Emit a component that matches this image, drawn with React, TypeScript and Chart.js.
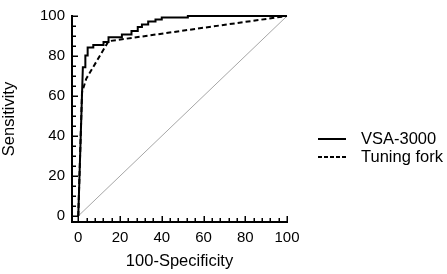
import { useEffect, useRef } from "react";
import { Chart, registerables } from "chart.js";

Chart.register(...registerables);

const seriesLabels = ["VSA-3000", "Tuning fork"];

const vsaFpr = [0, 2.2, 3.4, 3.4, 4.5, 4.5, 7.2, 7.2, 12.1, 12.1, 14.5, 14.5, 20.9, 20.9, 25.5, 25.5, 28.5, 28.5, 30.5, 30.5, 33.5, 33.5, 37, 37, 40, 40, 52.5, 52.5, 100];
const vsaSens = [0, 74.4, 74.4, 80.2, 80.2, 84.2, 84.2, 85.5, 85.5, 87, 87, 89.4, 89.4, 90.8, 90.8, 92.5, 92.5, 94.5, 94.5, 95.8, 95.8, 97.2, 97.2, 98.2, 98.2, 99.2, 99.2, 100, 100];

const forkFpr = [0, 1.8, 3.8, 14.5, 100];
const forkSens = [0, 61.8, 68.6, 87.4, 100];

const diagX = [0, 100];
const diagY = [0, 100];

const xTickLabels = [0, 20, 40, 60, 80, 100];
const yTickLabels = [0, 20, 40, 60, 80, 100];
const xMinorStep = 4;
const yMinorStep = 5;

const FONT = "'Liberation Sans', Arial, sans-serif";

const toPts = (xs: number[], ys: number[]) => xs.map((x, i) => ({ x, y: ys[i] }));

const axesPlugin = {
  id: "prismAxes",
  afterDatasetsDraw(chart: any) {
    const { ctx, scales } = chart;
    const xs = scales.x;
    const ys = scales.y;
    const left = xs.getPixelForValue(xs.min);
    const bottom = ys.getPixelForValue(ys.min);
    const xEnd = xs.getPixelForValue(100);
    const yEnd = ys.getPixelForValue(100);
    ctx.save();
    ctx.strokeStyle = "#000";
    ctx.lineWidth = 2;
    ctx.lineCap = "butt";
    ctx.beginPath();
    ctx.moveTo(left, bottom + 1);
    ctx.lineTo(left, yEnd - 1);
    ctx.moveTo(left - 1, bottom);
    ctx.lineTo(xEnd + 1, bottom);
    ctx.stroke();
    ctx.lineWidth = 1.5;
    ctx.beginPath();
    for (let v = 0; v <= 100; v += yMinorStep) {
      const py = Math.round(ys.getPixelForValue(v)) + 0.25;
      const len = v % 20 === 0 ? 6 : 4;
      ctx.moveTo(left, py);
      ctx.lineTo(left + len, py);
    }
    for (let v = 0; v <= 100; v += xMinorStep) {
      const px = Math.round(xs.getPixelForValue(v)) + 0.25;
      const len = v % 20 === 0 ? 6 : 4;
      ctx.moveTo(px, bottom);
      ctx.lineTo(px, bottom - len);
    }
    ctx.stroke();
    ctx.restore();
  },
  afterDraw(chart: any) {
    const { ctx } = chart;
    const rows = [139, 157];
    const dashes = [[], [4, 2]];
    ctx.save();
    chart.data.datasets.slice(0, 2).forEach((ds: any, i: number) => {
      const y = rows[i];
      ctx.strokeStyle = "#000";
      ctx.lineWidth = 2;
      ctx.setLineDash(dashes[i]);
      ctx.beginPath();
      ctx.moveTo(318, y);
      ctx.lineTo(346, y);
      ctx.stroke();
      ctx.setLineDash([]);
      ctx.fillStyle = "#000";
      ctx.font = `16.5px ${FONT}`;
      ctx.textBaseline = "middle";
      ctx.textAlign = "left";
      ctx.fillText(ds.label, 361, y);
    });
    ctx.restore();
  },
};

export default function App() {
  const ref = useRef<HTMLCanvasElement>(null);
  useEffect(() => {
    if (!ref.current) return;
    const chart = new Chart(ref.current, {
      type: "scatter",
      data: {
        datasets: [
          {
            label: seriesLabels[0],
            data: toPts(vsaFpr, vsaSens),
            showLine: true,
            borderColor: "#000",
            borderWidth: 2,
            pointRadius: 0,
            tension: 0,
            clip: false,
          } as any,
          {
            label: seriesLabels[1],
            data: toPts(forkFpr, forkSens),
            showLine: true,
            borderColor: "#000",
            borderWidth: 2,
            borderDash: [5, 3],
            pointRadius: 0,
            tension: 0,
            clip: false,
          },
          {
            label: "",
            data: toPts(diagX, diagY),
            showLine: true,
            borderColor: "#a6a6a6",
            borderWidth: 1,
            pointRadius: 0,
            tension: 0,
            clip: false,
          },
        ],
      },
      options: {
        animation: false,
        responsive: false,
        maintainAspectRatio: false,
        layout: { padding: { top: 9, right: 160, left: 0, bottom: 0 } },
        plugins: { legend: { display: false }, tooltip: { enabled: false } },
        scales: {
          x: {
            type: "linear",
            min: -3,
            max: 100,
            grid: { display: false, drawTicks: false },
            border: { display: false },
            afterBuildTicks: (s: any) => {
              s.ticks = xTickLabels.map((v) => ({ value: v }));
            },
            afterFit: (s: any) => {
              s.height = 52;
            },
            ticks: {
              autoSkip: false,
              maxRotation: 0,
              padding: 7,
              color: "#000",
              font: { family: FONT, size: 15 },
            },
            title: {
              display: true,
              text: "100-Specificity",
              color: "#000",
              font: { family: FONT, size: 16.5 },
              padding: { top: 0, bottom: 3 },
            },
          },
          y: {
            type: "linear",
            min: -3,
            max: 100,
            grid: { display: false, drawTicks: false },
            border: { display: false },
            afterBuildTicks: (s: any) => {
              s.ticks = yTickLabels.map((v) => ({ value: v }));
            },
            afterFit: (s: any) => {
              s.width = 72;
            },
            ticks: {
              autoSkip: false,
              padding: 7,
              color: "#000",
              font: { family: FONT, size: 15 },
            },
            title: {
              display: true,
              text: "Sensitivity",
              color: "#000",
              font: { family: FONT, size: 16.5 },
              padding: { top: 0, bottom: 0 },
            },
          },
        },
      },
      plugins: [axesPlugin],
    });
    return () => chart.destroy();
  }, []);
  return (
    <div style={{ position: "absolute", left: 0, top: 0, width: 447, height: 274, background: "#fff" }}>
      <canvas ref={ref} width={447} height={274} style={{ display: "block", width: 447, height: 274 }} />
    </div>
  );
}
